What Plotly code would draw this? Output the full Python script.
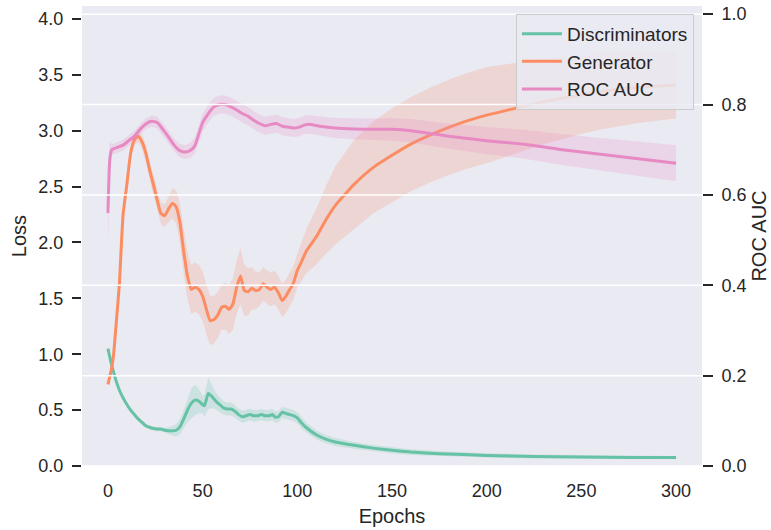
import numpy as np
import plotly.graph_objects as go

# ---------------- data ----------------
gen_epochs = [0, 2, 3, 4, 6, 8, 10, 12, 14, 16, 18, 20, 22, 24, 26, 28, 30, 32, 34, 36, 38, 40, 42, 44,
              46, 48, 50, 52, 54, 56, 58, 60, 62, 64, 66, 68, 70, 72, 74, 76, 78, 80, 82, 84, 86, 88,
              90, 92, 94, 96, 98, 100, 102, 105, 110, 115, 120, 130, 140, 150, 160, 170, 180, 190,
              200, 210, 220, 230, 240, 250, 260, 270, 280, 290, 300]
gen_loss = [0.73, 0.88, 1.00, 1.20, 1.62, 2.25, 2.52, 2.80, 2.92, 2.95, 2.90, 2.80, 2.65, 2.52, 2.38,
            2.26, 2.24, 2.30, 2.35, 2.32, 2.18, 1.92, 1.70, 1.58, 1.60, 1.58, 1.52, 1.40, 1.30, 1.31,
            1.35, 1.42, 1.43, 1.40, 1.45, 1.60, 1.70, 1.57, 1.56, 1.59, 1.57, 1.58, 1.63, 1.60, 1.58,
            1.60, 1.55, 1.48, 1.52, 1.58, 1.64, 1.75, 1.82, 1.93, 2.05, 2.20, 2.33, 2.52, 2.67, 2.78,
            2.88, 2.96, 3.03, 3.09, 3.14, 3.18, 3.22, 3.26, 3.29, 3.32, 3.35, 3.37, 3.39, 3.40, 3.41]
gen_sd_epochs = [0, 10, 16, 20, 30, 36, 40, 44, 50, 54, 60, 70, 80, 90, 100, 110, 120, 130, 150, 200, 250, 300]
gen_sd = [0.02, 0.05, 0.05, 0.08, 0.10, 0.15, 0.20, 0.22, 0.22, 0.22, 0.20, 0.25, 0.15, 0.15, 0.15,
          0.25, 0.35, 0.40, 0.42, 0.43, 0.35, 0.30]

disc_epochs = [0, 2, 4, 6, 8, 10, 12, 14, 16, 18, 20, 22, 24, 26, 28, 30, 32, 34, 36, 38, 40, 42, 44,
               46, 48, 50, 51, 53, 55, 57, 59, 61, 63, 65, 67, 69, 71, 73, 75, 77, 79, 81, 83, 85, 87,
               88, 90, 92, 94, 96, 98, 100, 102, 105, 110, 115, 120, 130, 140, 150, 160, 175, 200,
               225, 250, 275, 300]
disc_loss = [1.05, 0.90, 0.78, 0.68, 0.61, 0.55, 0.50, 0.46, 0.42, 0.39, 0.36, 0.345, 0.335, 0.33,
             0.33, 0.32, 0.315, 0.315, 0.32, 0.35, 0.42, 0.50, 0.56, 0.59, 0.58, 0.55, 0.54, 0.65,
             0.62, 0.58, 0.55, 0.52, 0.51, 0.51, 0.49, 0.46, 0.44, 0.45, 0.46, 0.45, 0.45, 0.46,
             0.45, 0.45, 0.46, 0.44, 0.44, 0.48, 0.47, 0.46, 0.45, 0.43, 0.39, 0.34, 0.28, 0.24,
             0.215, 0.185, 0.16, 0.14, 0.125, 0.11, 0.095, 0.085, 0.08, 0.077, 0.075]
disc_sd_epochs = [0, 30, 40, 45, 50, 53, 56, 60, 80, 100, 110, 130, 200, 300]
disc_sd = [0.01, 0.02, 0.08, 0.15, 0.08, 0.14, 0.08, 0.06, 0.05, 0.05, 0.04, 0.03, 0.02, 0.015]

roc_epochs = [0, 1, 2, 5, 8, 11, 14, 17, 20, 23, 26, 29, 32, 35, 38, 41, 44, 46, 48, 50, 53, 56, 59,
              62, 65, 68, 71, 74, 77, 80, 83, 86, 89, 92, 95, 98, 101, 104, 107, 112, 120, 130, 140,
              150, 160, 170, 180, 200, 220, 240, 260, 280, 300]
roc_auc = [0.56, 0.68, 0.70, 0.705, 0.71, 0.72, 0.73, 0.745, 0.757, 0.763, 0.76, 0.745, 0.728, 0.71,
           0.698, 0.695, 0.70, 0.71, 0.735, 0.76, 0.78, 0.795, 0.80, 0.80, 0.795, 0.788, 0.78, 0.774,
           0.765, 0.758, 0.753, 0.756, 0.758, 0.752, 0.75, 0.748, 0.75, 0.755, 0.756, 0.752, 0.748,
           0.746, 0.745, 0.745, 0.742, 0.736, 0.73, 0.72, 0.712, 0.70, 0.69, 0.68, 0.67]
roc_sd_epochs = [0, 2, 20, 40, 50, 60, 100, 150, 200, 250, 300]
roc_sd = [0.07, 0.012, 0.012, 0.015, 0.02, 0.02, 0.02, 0.025, 0.03, 0.035, 0.04]

x_ticks = [0, 50, 100, 150, 200, 250, 300]
loss_ticks = [0.0, 0.5, 1.0, 1.5, 2.0, 2.5, 3.0, 3.5, 4.0]
roc_ticks = [0.0, 0.2, 0.4, 0.6, 0.8, 1.0]

GREEN = "#66c2a5"
ORANGE = "#fc8d62"
PINK = "#e78ac3"
TXT = "#262626"
FONT = "Liberation Sans, Arial, sans-serif"


def band(ep, mean, sd_ep, sd):
    ep = np.asarray(ep, float)
    m = np.asarray(mean, float)
    s = np.interp(ep, sd_ep, sd)
    up = m + s
    lo = np.maximum(m - s, 0)
    return list(ep) + list(ep[::-1]), list(up) + list(lo[::-1])


fig = go.Figure()

for ep, m, se, s, col, name, ax in [
    (disc_epochs, disc_loss, disc_sd_epochs, disc_sd, GREEN, "Discriminators", "y"),
    (gen_epochs, gen_loss, gen_sd_epochs, gen_sd, ORANGE, "Generator", "y"),
    (roc_epochs, roc_auc, roc_sd_epochs, roc_sd, PINK, "ROC AUC", "y2"),
]:
    bx, by = band(ep, m, se, s)
    r, g, b = int(col[1:3], 16), int(col[3:5], 16), int(col[5:7], 16)
    fig.add_trace(go.Scatter(x=bx, y=by, fill="toself", mode="lines", line=dict(width=0),
                             fillcolor=f"rgba({r},{g},{b},0.22)", hoverinfo="skip",
                             showlegend=False, yaxis=ax))
    fig.add_trace(go.Scatter(x=ep, y=m, mode="lines", name=name, legendgroup=name,
                             line=dict(color=col, width=3, shape="spline", smoothing=0.5),
                             yaxis=ax))

shapes = []
for v in roc_ticks:
    shapes.append(dict(type="line", xref="paper", x0=0, x1=1, yref="y2", y0=v, y1=v,
                       line=dict(color="white", width=1.5), layer="above"))

fig.update_layout(
    width=771, height=530,
    margin=dict(l=82, r=68, t=4, b=64),
    paper_bgcolor="white", plot_bgcolor="#EAEAF2",
    font=dict(family=FONT, size=18, color=TXT),
    shapes=shapes,
    showlegend=True,
    legend=dict(x=0.987, y=0.983, xanchor="right", yanchor="top",
                bgcolor="rgba(234,234,242,0.85)", bordercolor="#cccccc", borderwidth=1,
                font=dict(size=19, color=TXT), tracegroupgap=0, itemwidth=40,
                entrywidth=150, entrywidthmode="pixels"),
    xaxis=dict(range=[-13.7, 313.7], tickvals=x_ticks, showgrid=False, zeroline=False,
               ticks="", ticklabelstandoff=12,
               title=dict(text="Epochs", font=dict(size=20), standoff=8)),
    yaxis=dict(range=[0, 4.116], tickvals=loss_ticks, tickformat=".1f", showgrid=False,
               zeroline=False, ticks="outside", ticklen=9, tickwidth=1.5, tickcolor=TXT,
               ticklabelstandoff=5,
               title=dict(text="Loss", font=dict(size=20), standoff=6)),
    yaxis2=dict(range=[0, 1.018], tickvals=roc_ticks, tickformat=".1f", showgrid=False,
                zeroline=False, overlaying="y", side="right", ticks="outside", ticklen=10,
                tickwidth=1.5, tickcolor=TXT, ticklabelstandoff=5,
                title=dict(text="ROC AUC", font=dict(size=20), standoff=6)),
)

fig.write_html("out.html")
